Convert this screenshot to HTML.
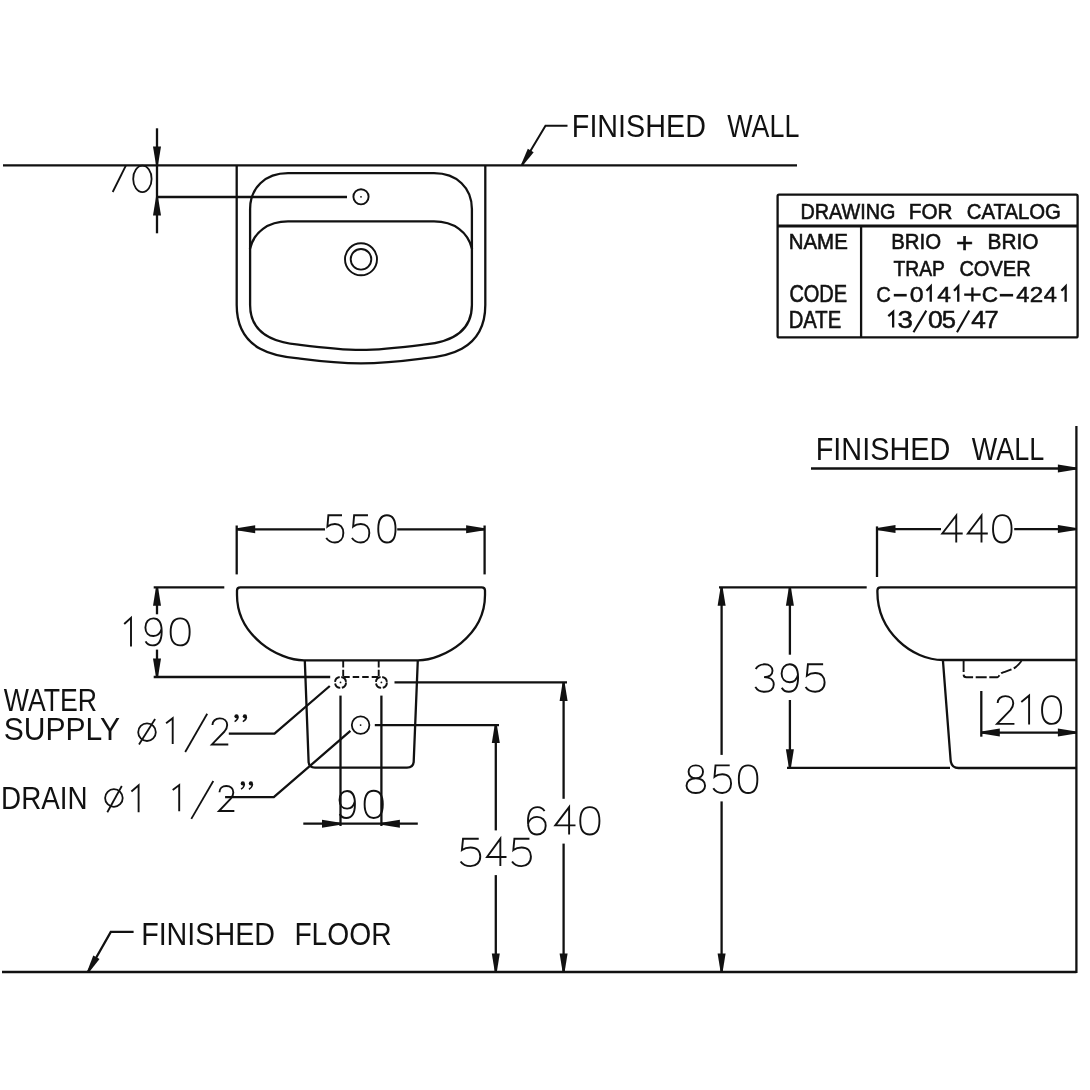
<!DOCTYPE html>
<html><head><meta charset="utf-8"><style>
html,body{margin:0;padding:0;background:#fff;width:1090px;height:1090px;overflow:hidden;position:relative}
text{font-family:"Liberation Sans",sans-serif}
</style></head><body>
<svg width="1090" height="1090" viewBox="0 0 1090 1090" style="position:absolute;left:0;top:0;will-change:transform">
<g stroke="#111111" fill="none" stroke-linecap="butt">
<line x1="3" y1="165.4" x2="797" y2="165.4" stroke-width="2.3" />
<path d="M522,165 L545.5,125.8 L567.5,125.8" stroke-width="2" fill="none" />
<polygon points="521.14,164.49 527.82,148.67 533.66,152.17 522.86,165.51" fill="#111111" stroke="none"/>
<line x1="157" y1="128.3" x2="157" y2="233.3" stroke-width="2.3" />
<polygon points="156.00,165.00 153.00,146.50 161.00,146.50 158.00,165.00" fill="#111111" stroke="none"/>
<polygon points="158.00,197.00 161.00,215.50 153.00,215.50 156.00,197.00" fill="#111111" stroke="none"/>
<line x1="157" y1="197" x2="347" y2="197" stroke-width="2.3" />
<line x1="125.9" y1="165.5" x2="112.7" y2="192" stroke-width="1.8" />
<ellipse cx="142.4" cy="178.9" rx="9.2" ry="13.2" stroke-width="1.8"/>
<path d="M236.7,165 L236.7,305 C236.7,356.9 287.9,357 300,358.6 C320,361.2 341,363.4 361,363.4 C381,363.4 402,361.2 422,358.6 C434.1,357 485.3,356.9 485.3,305 L485.3,165" stroke-width="2.3" fill="none" />
<path d="M250.1,209 C250.1,188 265,173.2 288,173.2 L434,173.2 C457,173.2 471.9,188 471.9,209 L471.9,305 C471.9,342.9 427.6,344.1 422,344.8 C402,347.3 381,349.9 361,349.9 C341,349.9 320,347.3 300,344.8 C294.4,344.1 250.1,342.9 250.1,305 Z" stroke-width="2.3" fill="none" />
<path d="M249.9,249 C254,232 268,221.4 288,221.4 L434,221.4 C454,221.4 468,232 472.1,249" stroke-width="2.3" fill="none" />
<circle cx="361" cy="196.8" r="7.6" stroke-width="1.9"/>
<circle cx="361" cy="196.8" r="0.9" fill="#111111" stroke="none"/>
<circle cx="361" cy="259.3" r="16" stroke-width="1.9"/>
<circle cx="361" cy="259.3" r="10.3" stroke-width="1.9"/>
<rect x="777.6" y="194.7" width="300" height="142.7" rx="1.5" stroke-width="2.3"/>
<line x1="777.6" y1="225.9" x2="1077.6" y2="225.9" stroke-width="3.0" />
<line x1="861.1" y1="225.9" x2="861.1" y2="337.4" stroke-width="2.3" />
<line x1="236.7" y1="525.5" x2="236.7" y2="574.4" stroke-width="2.3" />
<line x1="484.6" y1="525.5" x2="484.6" y2="574.4" stroke-width="2.3" />
<line x1="236.7" y1="529.3" x2="325" y2="529.3" stroke-width="2.3" />
<line x1="397.2" y1="529.3" x2="484.6" y2="529.3" stroke-width="2.3" />
<polygon points="236.70,528.30 255.20,525.30 255.20,533.30 236.70,530.30" fill="#111111" stroke="none"/>
<polygon points="484.60,530.30 466.10,533.30 466.10,525.30 484.60,528.30" fill="#111111" stroke="none"/>
<path d="M237,595 L237,590.6 C237,588.6 238.4,587.4 240.4,587.4 L481.6,587.4 C483.6,587.4 485,588.6 485,590.6 L485,595 C485,636 443.3,660.3 418,660.3 L304,660.3 C278.7,660.3 237,636 237,595 Z" stroke-width="2.3" fill="none" />
<line x1="153.7" y1="587.3" x2="224.3" y2="587.3" stroke-width="2.3" />
<line x1="153.7" y1="677" x2="330.2" y2="677" stroke-width="2.3" />
<line x1="157" y1="587.3" x2="157" y2="614.3" stroke-width="2.3" />
<line x1="157" y1="649.6" x2="157" y2="677" stroke-width="2.3" />
<polygon points="158.00,587.30 161.00,605.80 153.00,605.80 156.00,587.30" fill="#111111" stroke="none"/>
<polygon points="156.00,677.00 153.00,658.50 161.00,658.50 158.00,677.00" fill="#111111" stroke="none"/>
<path d="M304.8,660.3 L308.6,761.7 C308.8,765.5 311,767.6 315,767.6 L407,767.6 C411,767.6 413.4,765.5 413.7,761.7 L417.8,660.3" stroke-width="2.3" fill="none" />
<circle cx="340.5" cy="682.4" r="5.5" stroke-width="1.9" stroke-dasharray="7 1.7"/>
<circle cx="381.4" cy="682.4" r="5.5" stroke-width="1.9" stroke-dasharray="7 1.7"/>
<circle cx="340.5" cy="682.4" r="0.9" fill="#111111" stroke="none"/>
<circle cx="381.4" cy="682.4" r="0.9" fill="#111111" stroke="none"/>
<line x1="343.2" y1="661" x2="343.2" y2="677" stroke-width="1.9" stroke-dasharray="6.5 2.2"/>
<line x1="378.7" y1="661" x2="378.7" y2="677" stroke-width="1.9" stroke-dasharray="6.5 2.2"/>
<line x1="343.2" y1="677" x2="378.7" y2="677" stroke-width="1.8" stroke-dasharray="6.5 3"/>
<line x1="394.5" y1="682.4" x2="567" y2="682.4" stroke-width="2.3" />
<circle cx="360.6" cy="725.1" r="8.8" stroke-width="1.8"/>
<circle cx="360.6" cy="725.1" r="0.9" fill="#111111" stroke="none"/>
<line x1="374.8" y1="725.1" x2="499" y2="725.1" stroke-width="2.3" />
<line x1="340.5" y1="695.6" x2="340.5" y2="826" stroke-width="2.3" />
<line x1="381.4" y1="695.6" x2="381.4" y2="826" stroke-width="2.3" />
<line x1="303.3" y1="823.7" x2="417.8" y2="823.7" stroke-width="2.3" />
<polygon points="340.50,824.70 322.00,827.70 322.00,819.70 340.50,822.70" fill="#111111" stroke="none"/>
<polygon points="381.40,822.70 399.90,819.70 399.90,827.70 381.40,824.70" fill="#111111" stroke="none"/>
<path d="M228.8,733.6 L274.5,733.6 L329.8,686" stroke-width="2.3" fill="none" />
<path d="M225.1,797.2 L273.8,797.2 L350.4,730.9" stroke-width="2.3" fill="none" />
<line x1="495.8" y1="724.4" x2="495.8" y2="830.4" stroke-width="2.3" />
<line x1="495.8" y1="875.1" x2="495.8" y2="972" stroke-width="2.3" />
<polygon points="496.80,724.40 499.80,742.90 491.80,742.90 494.80,724.40" fill="#111111" stroke="none"/>
<polygon points="494.80,972.00 491.80,953.50 499.80,953.50 496.80,972.00" fill="#111111" stroke="none"/>
<line x1="563.6" y1="682.4" x2="563.6" y2="798.8" stroke-width="2.3" />
<line x1="563.6" y1="843.6" x2="563.6" y2="972" stroke-width="2.3" />
<polygon points="564.60,682.40 567.60,700.90 559.60,700.90 562.60,682.40" fill="#111111" stroke="none"/>
<polygon points="562.60,972.00 559.60,953.50 567.60,953.50 564.60,972.00" fill="#111111" stroke="none"/>
<line x1="2" y1="972" x2="1076.4" y2="972" stroke-width="2.3" />
<path d="M88,972 L110.8,931.9 L133.6,931.9" stroke-width="2.3" fill="none" />
<polygon points="87.13,971.51 93.27,955.44 99.53,959.00 88.87,972.49" fill="#111111" stroke="none"/>
<line x1="1076.4" y1="426" x2="1076.4" y2="973.1" stroke-width="2.3" />
<line x1="811" y1="468.5" x2="1076.4" y2="468.5" stroke-width="2.3" />
<polygon points="1076.40,469.50 1057.90,472.50 1057.90,464.50 1076.40,467.50" fill="#111111" stroke="none"/>
<line x1="877" y1="526.4" x2="877" y2="577" stroke-width="2.3" />
<line x1="877" y1="529.1" x2="941" y2="529.1" stroke-width="2.3" />
<line x1="1014.2" y1="529.1" x2="1076.4" y2="529.1" stroke-width="2.3" />
<polygon points="877.00,528.10 895.50,525.10 895.50,533.10 877.00,530.10" fill="#111111" stroke="none"/>
<polygon points="1076.40,530.10 1057.90,533.10 1057.90,525.10 1076.40,528.10" fill="#111111" stroke="none"/>
<line x1="719" y1="587.4" x2="866.7" y2="587.4" stroke-width="2.3" />
<path d="M1076.4,587.4 L880.6,587.4 C878.6,587.4 877.4,588.6 877.4,590.6 L877.4,592 C877.4,631.6 912,660 942.9,660 L1076.4,660" stroke-width="2.3" fill="none" />
<path d="M942.9,660 L950.6,760 C951,764.8 953.5,768 958.5,768 L1076.4,768" stroke-width="2.3" fill="none" />
<line x1="787" y1="767.8" x2="950" y2="767.8" stroke-width="2.3" />
<path d="M963.6,661 L963.6,674.5 C963.6,676.4 964.4,677.2 966.4,677.2 L997.5,677.2 C999,677.2 999.5,673.8 1002,672.8 C1006,671.4 1011,670.2 1015,667.6 C1018,665.6 1020,663 1021.5,661" stroke-width="1.9" fill="none" stroke-dasharray="11 2.6"/>
<line x1="789.9" y1="587.2" x2="789.9" y2="654.7" stroke-width="2.3" />
<line x1="789.9" y1="700" x2="789.9" y2="767.8" stroke-width="2.3" />
<polygon points="790.90,587.20 793.90,605.70 785.90,605.70 788.90,587.20" fill="#111111" stroke="none"/>
<polygon points="788.90,767.80 785.90,749.30 793.90,749.30 790.90,767.80" fill="#111111" stroke="none"/>
<line x1="721.6" y1="587.2" x2="721.6" y2="754.9" stroke-width="2.3" />
<line x1="721.6" y1="801.4" x2="721.6" y2="972" stroke-width="2.3" />
<polygon points="722.60,587.20 725.60,605.70 717.60,605.70 720.60,587.20" fill="#111111" stroke="none"/>
<polygon points="720.60,972.00 717.60,953.50 725.60,953.50 722.60,972.00" fill="#111111" stroke="none"/>
<line x1="981.3" y1="691" x2="981.3" y2="736.7" stroke-width="2.3" />
<line x1="981.3" y1="732.6" x2="1076.4" y2="732.6" stroke-width="2.3" />
<polygon points="981.30,731.60 999.80,728.60 999.80,736.60 981.30,733.60" fill="#111111" stroke="none"/>
<polygon points="1076.40,733.60 1057.90,736.60 1057.90,728.60 1076.40,731.60" fill="#111111" stroke="none"/>
<path d="M17.4,1 L3.2,1 L2.2,12.2 C4.2,10.6 7,9.6 10,9.6 C15.6,9.6 18.8,13.2 18.8,18.6 C18.8,24.4 15.2,28 10,28 C6,28 2.8,26.4 1,23.4" transform="translate(325.30,514.30) scale(0.9600,1.0069)" fill="none" stroke-width="1.9" vector-effect="non-scaling-stroke"/>
<path d="M17.4,1 L3.2,1 L2.2,12.2 C4.2,10.6 7,9.6 10,9.6 C15.6,9.6 18.8,13.2 18.8,18.6 C18.8,24.4 15.2,28 10,28 C6,28 2.8,26.4 1,23.4" transform="translate(351.00,514.30) scale(0.9750,1.0069)" fill="none" stroke-width="1.9" vector-effect="non-scaling-stroke"/>
<path d="M10,1 C15.6,1 19,5.6 19,14.5 C19,23.4 15.6,28 10,28 C4.4,28 1,23.4 1,14.5 C1,5.6 4.4,1 10,1Z" transform="translate(377.30,514.30) scale(0.9600,1.0069)" fill="none" stroke-width="1.9" vector-effect="non-scaling-stroke"/>
<path d="M124.2,624 L131,617.8 L131,646.4" stroke-width="1.9" fill="none" stroke-linejoin="miter"/>
<path d="M1.4,24 C3,26.8 5.6,28 9,28 C15.2,28 19,23 19,14 C19,5 15.4,1 10,1 C4.8,1 1.2,4.6 1.2,10 C1.2,15.4 4.8,18.6 10,18.6 C14.6,18.6 17.8,15.6 19,11" transform="translate(144.30,617.40) scale(0.9150,1.0000)" fill="none" stroke-width="1.9" vector-effect="non-scaling-stroke"/>
<path d="M10,1 C15.6,1 19,5.6 19,14.5 C19,23.4 15.6,28 10,28 C4.4,28 1,23.4 1,14.5 C1,5.6 4.4,1 10,1Z" transform="translate(169.60,617.40) scale(1.0550,1.0000)" fill="none" stroke-width="1.9" vector-effect="non-scaling-stroke"/>
<path d="M1.4,24 C3,26.8 5.6,28 9,28 C15.2,28 19,23 19,14 C19,5 15.4,1 10,1 C4.8,1 1.2,4.6 1.2,10 C1.2,15.4 4.8,18.6 10,18.6 C14.6,18.6 17.8,15.6 19,11" transform="translate(338.50,790.00) scale(0.8650,1.0000)" fill="none" stroke-width="1.9" vector-effect="non-scaling-stroke"/>
<path d="M10,1 C15.6,1 19,5.6 19,14.5 C19,23.4 15.6,28 10,28 C4.4,28 1,23.4 1,14.5 C1,5.6 4.4,1 10,1Z" transform="translate(363.60,789.70) scale(1.0100,1.0103)" fill="none" stroke-width="1.9" vector-effect="non-scaling-stroke"/>
<path d="M17.4,1 L3.2,1 L2.2,12.2 C4.2,10.6 7,9.6 10,9.6 C15.6,9.6 18.8,13.2 18.8,18.6 C18.8,24.4 15.2,28 10,28 C6,28 2.8,26.4 1,23.4" transform="translate(459.50,837.70) scale(1.1050,1.0138)" fill="none" stroke-width="1.9" vector-effect="non-scaling-stroke"/>
<path d="M14,28 L14,1 L1,19 L20,19" transform="translate(486.00,837.70) scale(1.0250,1.0138)" fill="none" stroke-width="1.9" vector-effect="non-scaling-stroke"/>
<path d="M17.4,1 L3.2,1 L2.2,12.2 C4.2,10.6 7,9.6 10,9.6 C15.6,9.6 18.8,13.2 18.8,18.6 C18.8,24.4 15.2,28 10,28 C6,28 2.8,26.4 1,23.4" transform="translate(511.00,837.70) scale(1.0600,1.0138)" fill="none" stroke-width="1.9" vector-effect="non-scaling-stroke"/>
<path d="M17.6,5 C16.2,2.4 13.6,1 10.6,1 C4.6,1 1,6 1,15 C1,24 4.4,28 10,28 C15.2,28 18.8,24.4 18.8,19.4 C18.8,14 15.2,10.6 10,10.6 C5.6,10.6 2,13.6 1,18" transform="translate(527.00,806.10) scale(0.9950,1.0138)" fill="none" stroke-width="1.9" vector-effect="non-scaling-stroke"/>
<path d="M14,28 L14,1 L1,19 L20,19" transform="translate(554.20,806.10) scale(1.0650,1.0138)" fill="none" stroke-width="1.9" vector-effect="non-scaling-stroke"/>
<path d="M10,1 C15.6,1 19,5.6 19,14.5 C19,23.4 15.6,28 10,28 C4.4,28 1,23.4 1,14.5 C1,5.6 4.4,1 10,1Z" transform="translate(579.20,806.10) scale(1.0650,1.0138)" fill="none" stroke-width="1.9" vector-effect="non-scaling-stroke"/>
<path d="M14,28 L14,1 L1,19 L20,19" transform="translate(941.20,514.50) scale(1.0750,1.0000)" fill="none" stroke-width="1.9" vector-effect="non-scaling-stroke"/>
<path d="M14,28 L14,1 L1,19 L20,19" transform="translate(966.80,514.50) scale(1.0500,1.0000)" fill="none" stroke-width="1.9" vector-effect="non-scaling-stroke"/>
<path d="M10,1 C15.6,1 19,5.6 19,14.5 C19,23.4 15.6,28 10,28 C4.4,28 1,23.4 1,14.5 C1,5.6 4.4,1 10,1Z" transform="translate(992.00,514.10) scale(1.0300,1.0138)" fill="none" stroke-width="1.9" vector-effect="non-scaling-stroke"/>
<path d="M1.4,5.6 C3,2.4 6,1 10,1 C14.6,1 17.6,3.6 17.6,7.4 C17.6,11.2 14.4,13.6 9.4,13.6 C15,13.6 18.8,16.4 18.8,20.9 C18.8,25.4 15.2,28 10,28 C5.6,28 2.6,26.2 1,23.2" transform="translate(754.30,663.30) scale(1.0350,1.0172)" fill="none" stroke-width="1.9" vector-effect="non-scaling-stroke"/>
<path d="M1.4,24 C3,26.8 5.6,28 9,28 C15.2,28 19,23 19,14 C19,5 15.4,1 10,1 C4.8,1 1.2,4.6 1.2,10 C1.2,15.4 4.8,18.6 10,18.6 C14.6,18.6 17.8,15.6 19,11" transform="translate(780.50,663.30) scale(0.9250,1.0172)" fill="none" stroke-width="1.9" vector-effect="non-scaling-stroke"/>
<path d="M17.4,1 L3.2,1 L2.2,12.2 C4.2,10.6 7,9.6 10,9.6 C15.6,9.6 18.8,13.2 18.8,18.6 C18.8,24.4 15.2,28 10,28 C6,28 2.8,26.4 1,23.4" transform="translate(804.50,663.30) scale(1.0700,1.0172)" fill="none" stroke-width="1.9" vector-effect="non-scaling-stroke"/>
<path d="M10,1 C14.2,1 17,3.6 17,7.3 C17,11 14.2,13.6 10,13.6 C5.8,13.6 3,11 3,7.3 C3,3.6 5.8,1 10,1Z M10,13.6 C15.4,13.6 19,16.6 19,20.8 C19,25 15.4,28 10,28 C4.6,28 1,25 1,20.8 C1,16.6 4.6,13.6 10,13.6Z" transform="translate(685.50,764.40) scale(1.0300,1.0207)" fill="none" stroke-width="1.9" vector-effect="non-scaling-stroke"/>
<path d="M17.4,1 L3.2,1 L2.2,12.2 C4.2,10.6 7,9.6 10,9.6 C15.6,9.6 18.8,13.2 18.8,18.6 C18.8,24.4 15.2,28 10,28 C6,28 2.8,26.4 1,23.4" transform="translate(712.30,764.40) scale(1.0000,1.0207)" fill="none" stroke-width="1.9" vector-effect="non-scaling-stroke"/>
<path d="M10,1 C15.6,1 19,5.6 19,14.5 C19,23.4 15.6,28 10,28 C4.4,28 1,23.4 1,14.5 C1,5.6 4.4,1 10,1Z" transform="translate(737.80,764.40) scale(1.0300,1.0207)" fill="none" stroke-width="1.9" vector-effect="non-scaling-stroke"/>
<path d="M1.6,7.8 C1.6,3.8 5,1 9.6,1 C14.4,1 17.8,3.8 17.8,8 C17.8,10.6 16.8,12.4 14.8,14.6 L1,28 L19,28" transform="translate(996.10,695.10) scale(0.9650,1.0276)" fill="none" stroke-width="1.9" vector-effect="non-scaling-stroke"/>
<path d="M1021.3,702 L1029.1,695.6 L1029.1,724.4" stroke-width="1.9" fill="none" stroke-linejoin="miter"/>
<path d="M10,1 C15.6,1 19,5.6 19,14.5 C19,23.4 15.6,28 10,28 C4.4,28 1,23.4 1,14.5 C1,5.6 4.4,1 10,1Z" transform="translate(1041.00,695.10) scale(1.0600,1.0276)" fill="none" stroke-width="1.9" vector-effect="non-scaling-stroke"/>
<circle cx="147" cy="732.2" r="8.8" stroke-width="1.8"/>
<line x1="139" y1="744.6" x2="155.1" y2="719" stroke-width="1.8" />
<path d="M166.1,723.3 L172.7,718.2 L172.7,743.9" stroke-width="1.9" fill="none" stroke-linejoin="miter"/>
<line x1="185.2" y1="752" x2="207.2" y2="713.8" stroke-width="1.8" />
<path d="M1.6,7.8 C1.6,3.8 5,1 9.6,1 C14.4,1 17.8,3.8 17.8,8 C17.8,10.6 16.8,12.4 14.8,14.6 L1,28 L19,28" transform="translate(211.00,717.40) scale(0.9100,0.9655)" fill="none" stroke-width="1.9" vector-effect="non-scaling-stroke"/>
<circle cx="113.9" cy="798" r="8.8" stroke-width="1.8"/>
<line x1="107.3" y1="812.2" x2="121.8" y2="786" stroke-width="1.8" />
<path d="M131.4,791.5 L138.6,785.3 L138.6,812.2" stroke-width="1.9" fill="none" stroke-linejoin="miter"/>
<path d="M172.7,790 L179.2,785.1 L179.2,811.3" stroke-width="1.9" fill="none" stroke-linejoin="miter"/>
<line x1="191.3" y1="818.9" x2="213.3" y2="781" stroke-width="1.8" />
<path d="M1.6,7.8 C1.6,3.8 5,1 9.6,1 C14.4,1 17.8,3.8 17.8,8 C17.8,10.6 16.8,12.4 14.8,14.6 L1,28 L19,28" transform="translate(218.10,785.10) scale(0.8550,0.9241)" fill="none" stroke-width="1.9" vector-effect="non-scaling-stroke"/>
</g>
<circle cx="236.5" cy="716.3" r="2.1" fill="#111111"/>
<path d="M238.1,716.9 Q237.7,720.1 234.6,721.6" stroke="#111111" stroke-width="1.5" fill="none"/>
<circle cx="244.9" cy="716.3" r="2.1" fill="#111111"/>
<path d="M246.5,716.9 Q246.1,720.1 242.8,721.6" stroke="#111111" stroke-width="1.5" fill="none"/>
<circle cx="242.8" cy="783.4" r="2.1" fill="#111111"/>
<path d="M244.4,784.0 Q244.0,787.7 241.0,789.2" stroke="#111111" stroke-width="1.5" fill="none"/>
<circle cx="250.9" cy="783.4" r="2.1" fill="#111111"/>
<path d="M252.5,784.0 Q252.1,787.7 248.9,789.2" stroke="#111111" stroke-width="1.5" fill="none"/>
<g font-family="Liberation Sans">
<text x="571.85" y="136.70" font-size="31.10" textLength="134.03" lengthAdjust="spacingAndGlyphs" fill="#111111" >FINISHED</text>
<text x="727.27" y="136.70" font-size="31.10" textLength="72.12" lengthAdjust="spacingAndGlyphs" fill="#111111" >WALL</text>
<text x="815.74" y="459.90" font-size="31.69" textLength="134.55" lengthAdjust="spacingAndGlyphs" fill="#111111" >FINISHED</text>
<text x="971.76" y="459.90" font-size="31.69" textLength="72.53" lengthAdjust="spacingAndGlyphs" fill="#111111" >WALL</text>
<text x="141.15" y="945.40" font-size="31.83" textLength="133.83" lengthAdjust="spacingAndGlyphs" fill="#111111" >FINISHED</text>
<text x="294.39" y="945.40" font-size="31.83" textLength="97.24" lengthAdjust="spacingAndGlyphs" fill="#111111" >FLOOR</text>
<text x="3.72" y="710.80" font-size="30.81" textLength="93.25" lengthAdjust="spacingAndGlyphs" fill="#111111" >WATER</text>
<text x="3.72" y="740.40" font-size="31.83" textLength="116.35" lengthAdjust="spacingAndGlyphs" fill="#111111" >SUPPLY</text>
<text x="1.12" y="808.70" font-size="31.98" textLength="86.44" lengthAdjust="spacingAndGlyphs" fill="#111111" >DRAIN</text>
<text x="800.48" y="218.50" font-size="22.38" textLength="94.90" lengthAdjust="spacingAndGlyphs" fill="#111111" stroke="#111111" stroke-width="0.6" >DRAWING</text>
<text x="908.81" y="218.50" font-size="22.38" textLength="43.56" lengthAdjust="spacingAndGlyphs" fill="#111111" stroke="#111111" stroke-width="0.6" >FOR</text>
<text x="966.76" y="218.50" font-size="22.38" textLength="94.15" lengthAdjust="spacingAndGlyphs" fill="#111111" stroke="#111111" stroke-width="0.6" >CATALOG</text>
<text x="788.72" y="249.40" font-size="22.38" textLength="59.06" lengthAdjust="spacingAndGlyphs" fill="#111111" stroke="#111111" stroke-width="0.6" >NAME</text>
<text x="789.38" y="302.30" font-size="23.55" textLength="57.78" lengthAdjust="spacingAndGlyphs" fill="#111111" stroke="#111111" stroke-width="0.6" >CODE</text>
<text x="788.74" y="328.00" font-size="23.55" textLength="52.42" lengthAdjust="spacingAndGlyphs" fill="#111111" stroke="#111111" stroke-width="0.6" >DATE</text>
<text x="891.23" y="249.20" font-size="22.38" textLength="49.85" lengthAdjust="spacingAndGlyphs" fill="#111111" stroke="#111111" stroke-width="0.6" >BRIO</text>
<text x="956.05" y="251.97" font-size="28.02" textLength="17.30" lengthAdjust="spacingAndGlyphs" fill="#111111" stroke="#111111" stroke-width="0.6" >+</text>
<text x="987.60" y="249.20" font-size="22.38" textLength="50.80" lengthAdjust="spacingAndGlyphs" fill="#111111" stroke="#111111" stroke-width="0.6" >BRIO</text>
<text x="893.47" y="276.20" font-size="22.38" textLength="51.55" lengthAdjust="spacingAndGlyphs" fill="#111111" stroke="#111111" stroke-width="0.6" >TRAP</text>
<text x="959.38" y="276.20" font-size="22.38" textLength="71.27" lengthAdjust="spacingAndGlyphs" fill="#111111" stroke="#111111" stroke-width="0.6" >COVER</text>
<text x="876.27" y="301.80" font-size="22.82" textLength="14.60" lengthAdjust="spacingAndGlyphs" fill="#111111" stroke="#111111" stroke-width="0.5" >C</text>
<text x="909.83" y="301.80" font-size="22.82" textLength="13.85" lengthAdjust="spacingAndGlyphs" fill="#111111" stroke="#111111" stroke-width="0.5" >0</text>
<path d="M926.50,290.70 L930.75,286.40 L930.75,301.80" stroke="#111111" stroke-width="2.3" fill="none"/>
<text x="937.23" y="301.80" font-size="22.82" textLength="13.68" lengthAdjust="spacingAndGlyphs" fill="#111111" stroke="#111111" stroke-width="0.5" >4</text>
<path d="M954.00,290.70 L958.25,286.40 L958.25,301.80" stroke="#111111" stroke-width="2.3" fill="none"/>
<text x="981.65" y="301.80" font-size="22.82" textLength="16.31" lengthAdjust="spacingAndGlyphs" fill="#111111" stroke="#111111" stroke-width="0.5" >C</text>
<text x="1016.26" y="301.80" font-size="22.82" textLength="13.13" lengthAdjust="spacingAndGlyphs" fill="#111111" stroke="#111111" stroke-width="0.5" >4</text>
<text x="1029.79" y="301.80" font-size="22.82" textLength="13.42" lengthAdjust="spacingAndGlyphs" fill="#111111" stroke="#111111" stroke-width="0.5" >2</text>
<text x="1043.76" y="301.80" font-size="22.82" textLength="13.13" lengthAdjust="spacingAndGlyphs" fill="#111111" stroke="#111111" stroke-width="0.5" >4</text>
<path d="M1061.40,290.70 L1065.65,286.40 L1065.65,301.80" stroke="#111111" stroke-width="2.3" fill="none"/>
<rect x="893.8" y="293.9" width="12.90" height="2.6" fill="#111111"/>
<rect x="999.8" y="293.9" width="13.30" height="2.6" fill="#111111"/>
<rect x="964.2" y="293.5" width="16.4" height="2.3" fill="#111111"/>
<rect x="971.25" y="287.5" width="2.3" height="14" fill="#111111"/>
<path d="M888.30,316.10 L893.15,311.80 L893.15,327.50" stroke="#111111" stroke-width="2.3" fill="none"/>
<text x="897.64" y="327.50" font-size="23.26" textLength="15.49" lengthAdjust="spacingAndGlyphs" fill="#111111" stroke="#111111" stroke-width="0.5" >3</text>
<text x="927.96" y="327.50" font-size="23.26" textLength="14.78" lengthAdjust="spacingAndGlyphs" fill="#111111" stroke="#111111" stroke-width="0.5" >0</text>
<text x="941.78" y="327.50" font-size="23.26" textLength="14.20" lengthAdjust="spacingAndGlyphs" fill="#111111" stroke="#111111" stroke-width="0.5" >5</text>
<text x="971.30" y="327.50" font-size="23.26" textLength="14.57" lengthAdjust="spacingAndGlyphs" fill="#111111" stroke="#111111" stroke-width="0.5" >4</text>
<text x="984.40" y="327.50" font-size="23.26" textLength="14.18" lengthAdjust="spacingAndGlyphs" fill="#111111" stroke="#111111" stroke-width="0.5" >7</text>
<line x1="913.5" y1="332.2" x2="926.3" y2="310.6" stroke="#111111" stroke-width="2.1"/>
<line x1="957" y1="332.2" x2="969.3" y2="310.6" stroke="#111111" stroke-width="2.1"/>
</g>
</svg>
</body></html>
